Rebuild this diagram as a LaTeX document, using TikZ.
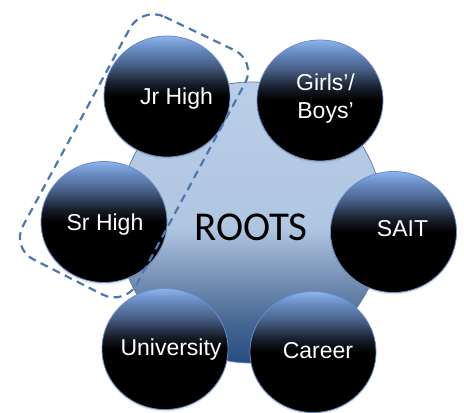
\documentclass[tikz,border=0pt]{standalone}
\usepackage{fontspec}
\setmainfont{Liberation Sans}
\newfontfamily\rootsfont{Carlito}
\usetikzlibrary{shapes.geometric,shadows}
\definecolor{balltop}{RGB}{140,180,235}
\definecolor{ballhi}{RGB}{105,140,195}
\definecolor{ballmid}{RGB}{72,96,135}
\definecolor{balllow}{RGB}{22,28,40}
\definecolor{ballrim}{RGB}{105,140,200}
\definecolor{hubtop}{RGB}{186,206,231}
\definecolor{hubmid}{RGB}{175,198,225}
\definecolor{hublow}{RGB}{125,150,186}
\definecolor{hubdark}{RGB}{68,102,146}
\definecolor{hubbot}{RGB}{38,76,126}
\definecolor{hubrim}{RGB}{95,130,180}
\definecolor{dashblue}{RGB}{75,120,175}
\pgfdeclareverticalshading{ballshading}{100bp}{color(0bp)=(black); color(25bp)=(black); color(50bp)=(black); color(55bp)=(balllow); color(63bp)=(ballmid); color(70bp)=(ballhi); color(75bp)=(balltop); color(100bp)=(balltop)}
\pgfdeclareverticalshading{hubshading}{100bp}{color(0bp)=(hubbot); color(25bp)=(hubbot); color(32bp)=(hubdark); color(41bp)=(hublow); color(49bp)=(hubmid); color(75bp)=(hubtop); color(100bp)=(hubtop)}
\begin{document}
\begin{tikzpicture}[x=1pt,y=-1pt,
  hub/.style={ellipse, minimum width=266pt, minimum height=281pt, inner sep=0pt, outer sep=0pt,
    shading=hubshading, draw=hubrim, line width=0.8pt},
  ball/.style={ellipse, minimum width=126pt, minimum height=121pt, inner sep=0pt, outer sep=0pt,
    shading=ballshading, draw=ballrim, line width=0.8pt,
    drop shadow={opacity=0.2, shadow xshift=0pt, shadow yshift=-2pt}},
  balltext/.style={text=white, font=\fontsize{23}{28.3}\selectfont, inner sep=0pt, anchor=base},
  roottext/.style={text=black, font=\rootsfont\fontsize{41}{46}\selectfont, inner sep=0pt, anchor=base},
  groupbox/.style={draw=dashblue, line width=2.2pt, dash pattern=on 8pt off 5.5pt, rounded corners=25pt}]
\useasboundingbox (0,0) rectangle (464,413);
% central shape
\node[hub] (hub) at (251,222.5) {};
\node[roottext] (rootslabel) at (251,240) {ROOTS};
% surrounding circles
\node[ball] (jr)   at (167,96.5) {};
\node[ball] (gb)   at (320,100.5) {};
\node[ball] (sait) at (393.5,232) {};
\node[ball] (car)  at (313,352) {};
\node[ball] (uni)  at (165,349) {};
\node[ball] (sr)   at (104,222) {};
% labels
\node[balltext] (jrlabel)   at (176.5,104) {Jr High};
\node[balltext, anchor=center, align=center] (gblabel) at (325.5,98.2) {Girls’/\\Boys’};
\node[balltext] (saitlabel) at (402.5,236) {SAIT};
\node[balltext] (carlabel)  at (318,358.3) {Career};
\node[balltext] (unilabel)  at (171,355) {University};
\node[balltext] (srlabel)   at (105,230) {Sr High};
% dashed grouping outline
\coordinate (g1) at (142,6);
\coordinate (g2) at (257,61);
\coordinate (g3) at (125,306);
\coordinate (g4) at (11,248);
\draw[groupbox] (g1) -- (g2) -- (g3) -- (g4) -- cycle;
\end{tikzpicture}
\end{document}
